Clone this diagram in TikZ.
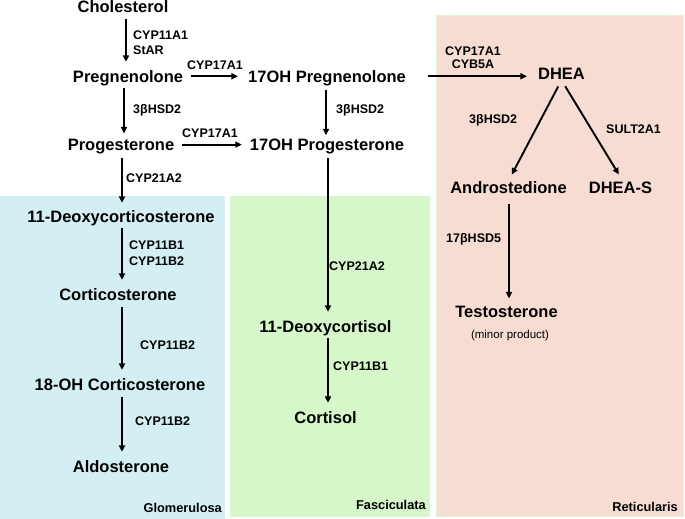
\documentclass[tikz,border=0pt]{standalone}
\usepackage{fontspec}
\setmainfont{Liberation Sans}
\usetikzlibrary{arrows.meta}
\definecolor{zblue}{RGB}{212,239,243}
\definecolor{zgreen}{RGB}{213,247,202}
\definecolor{zpink}{RGB}{246,220,211}
\definecolor{zpinkedge}{RGB}{222,245,210}
\tikzset{
  chem/.style={inner sep=0pt, anchor=base, font=\fontsize{16.5}{18}\selectfont\bfseries},
  enz/.style={inner sep=0pt, anchor=base west, font=\fontsize{12.5}{14}\selectfont\bfseries},
  zone/.style={inner sep=0pt, anchor=base east, font=\fontsize{12.8}{14}\selectfont\bfseries},
  arr/.style={line width=1.9pt, -{Triangle[length=6.5pt,width=6pt]}},
}
\begin{document}
\begin{tikzpicture}[x=1pt,y=-1pt]
\useasboundingbox (0,0) rectangle (685,519);
% zones
\fill[zblue] (0,196) rectangle (225,519);
\fill[zgreen] (230,196) rectangle (430,517);
\fill[zpink, draw=zpinkedge, line width=0.8pt] (436,15) rectangle (683,516);

% chemicals
\node[chem] (chol) at (123,13) {Cholesterol};
\node[chem] (preg) at (128,82) {Pregnenolone};
\node[chem] (ohpreg) at (327,82) {17OH Pregnenolone};
\node[chem] (prog) at (121,150) {Progesterone};
\node[chem] (ohprog) at (327,150) {17OH Progesterone};
\node[chem] (dhea) at (561.5,80) {DHEA};
\node[chem] (andro) at (508.5,193) {Androstedione};
\node[chem] (dheas) at (620.5,193) {DHEA-S};
\node[chem] (testo) at (506.5,317) {Testosterone};
\node[inner sep=0pt, anchor=base, font=\fontsize{11.5}{13}\selectfont] (minor) at (510,338) {(minor product)};
\node[chem] (doc) at (121,222) {11-Deoxycorticosterone};
\node[chem] (cort) at (118,300) {Corticosterone};
\node[chem] (ohcort) at (120,390) {18-OH Corticosterone};
\node[chem] (aldo) at (121,472) {Aldosterone};
\node[chem] (dcortisol) at (325.5,332) {11-Deoxycortisol};
\node[chem] (cortisol) at (325.5,423) {Cortisol};

% zone labels
\node[zone] (glom) at (222,512) {Glomerulosa};
\node[zone] (fasc) at (426,509) {Fasciculata};
\node[zone] (retic) at (678,511) {Reticularis};

% enzymes
\node[enz] (e1) at (133,40) {CYP11A1};
\node[enz] (e1b) at (133,55) {StAR};
\node[enz] (e2) at (187,70) {CYP17A1};
\node[enz] (e3) at (133,113) {3βHSD2};
\node[enz] (e4) at (336,113) {3βHSD2};
\node[enz] (e5) at (182,137) {CYP17A1};
\node[enz] (e6) at (126,182) {CYP21A2};
\node[inner sep=0pt, anchor=base, font=\fontsize{12.5}{14}\selectfont\bfseries, align=center] (e7) at (473,68) {CYP17A1\\[-1.2pt]CYB5A};
\node[enz] (e8) at (469,123) {3βHSD2};
\node[enz] (e9) at (606,133) {SULT2A1};
\node[enz] (e10) at (446,242) {17βHSD5};
\node[enz] (e11) at (129,249) {CYP11B1};
\node[enz] (e11b) at (129,265) {CYP11B2};
\node[enz] (e12) at (140,349) {CYP11B2};
\node[enz] (e13) at (135,425) {CYP11B2};
\node[enz] (e14) at (329,270) {CYP21A2};
\node[enz] (e15) at (333,370) {CYP11B1};

% arrows
\draw[arr, shorten <=6pt, shorten >=8pt] ([xshift=3pt]chol.south) -- ([xshift=3pt]chol.south |- preg.north);
\draw[arr, shorten <=2.5pt, shorten >=5pt] ([xshift=-4pt]preg.south) -- ([xshift=-4pt]preg.south |- prog.north);
\draw[arr, shorten <=4.5pt, shorten >=7pt] ([xshift=1pt]prog.south) -- ([xshift=1pt]prog.south |- doc.north);
\draw[arr, shorten <=8pt, shorten >=10pt] ([yshift=1.5pt]preg.east) -- ([yshift=1.5pt]preg.east -| ohpreg.west);
\draw[arr, shorten <=8pt, shorten >=8pt] ([yshift=1.5pt]prog.east) -- ([yshift=1.5pt]prog.east -| ohprog.west);
\draw[arr, shorten <=4.5pt, shorten >=3pt] ([xshift=-1pt]ohpreg.south) -- ([xshift=-1pt]ohpreg.south |- ohprog.north);
\draw[arr, shorten <=22pt, shorten >=11pt] ([yshift=1.5pt]ohpreg.east) -- ([yshift=1.5pt]ohpreg.east -| dhea.west);
\draw[arr, shorten <=4.5pt, shorten >=8pt] ([xshift=1pt]ohprog.south) -- ([xshift=1pt]ohprog.south |- dcortisol.north);
\draw[arr, shorten <=2.5pt, shorten >=8pt] ([xshift=2.5pt]dcortisol.south) -- ([xshift=2.5pt]dcortisol.south |- cortisol.north);
\draw[arr, shorten <=2.5pt, shorten >=8pt] ([xshift=1pt]doc.south) -- ([xshift=1pt]doc.south |- cort.north);
\draw[arr, shorten <=7pt, shorten >=8pt] ([xshift=4pt]cort.south) -- ([xshift=4pt]cort.south |- ohcort.north);
\draw[arr, shorten <=7pt, shorten >=8pt] ([xshift=2pt]ohcort.south) -- ([xshift=2pt]ohcort.south |- aldo.north);
\draw[arr, shorten <=7pt, shorten >=7pt] (dhea.south) -- (andro.north);
\draw[arr, shorten <=7pt, shorten >=8pt] (dhea.south) -- ([xshift=2.5pt]dheas.north);
\draw[arr, shorten <=11pt, shorten >=7pt] ([xshift=0.5pt]andro.south) -- ([xshift=0.5pt]andro.south |- testo.north);
\end{tikzpicture}
\end{document}
